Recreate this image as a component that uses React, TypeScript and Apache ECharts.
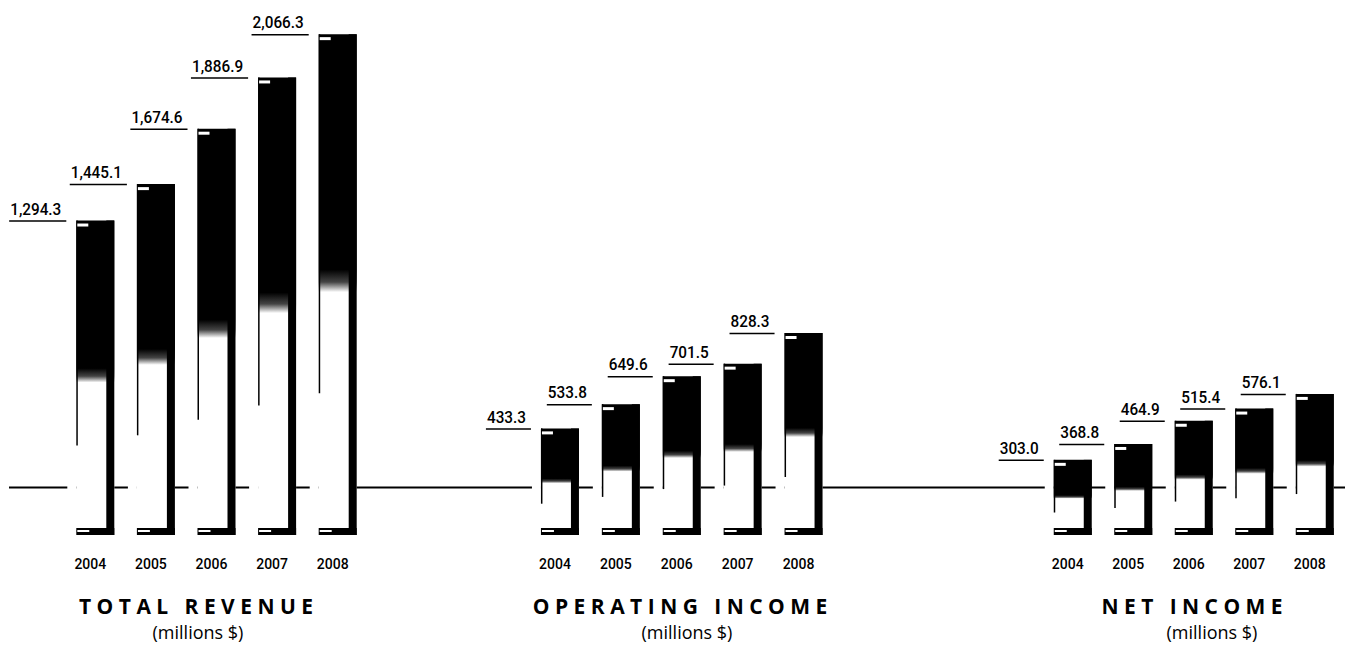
import React, { useEffect, useRef } from "react";
import * as echarts from "echarts";

const years = ["2004", "2005", "2006", "2007", "2008"];
const totalRevenue = [1294.3, 1445.1, 1674.6, 1886.9, 2066.3];
const operatingIncome = [433.3, 533.8, 649.6, 701.5, 828.3];
const netIncome = [303.0, 368.8, 464.9, 515.4, 576.1];
const groupTitles = ["TOTAL REVENUE", "OPERATING INCOME", "NET INCOME"];
const groupSubtitle = "(millions $)";

const LABEL_FAMILY = "Roboto, 'Noto Sans', sans-serif";
const LABEL_SIZE = 17;
const LABEL_WEIGHT = 500;
const LABEL_SCALE_X = 0.9;
const TITLE_FAMILY = "'Open Sans', 'Noto Sans', sans-serif";

const fmt = (v: number) =>
  v.toLocaleString("en-US", { minimumFractionDigits: 1, maximumFractionDigits: 1 });

let measureCtx: CanvasRenderingContext2D | null = null;
function textWidth(t: string): number {
  if (!measureCtx) {
    const c = document.createElement("canvas");
    measureCtx = c.getContext("2d");
  }
  if (!measureCtx) return t.length * 8;
  measureCtx.font = `${LABEL_WEIGHT} ${LABEL_SIZE}px ${LABEL_FAMILY}`;
  return measureCtx.measureText(t).width;
}

const spaced = (s: string) =>
  s
    .split(" ")
    .map((w) => w.split("").join(" "))
    .join("   ");

function renderBar(params: any, api: any) {
  const idx = api.value(0);
  const val = api.value(1);
  const top = api.coord([idx, val]);
  const base = api.coord([idx, 0]);
  const w = 38;
  const x = top[0] - w / 2;
  const yT = top[1];
  const yB = base[1];
  const h = yB - yT;
  const label = fmt(val);
  const tw = textWidth(label) * LABEL_SCALE_X;
  const grad = new echarts.graphic.LinearGradient(0, 0, 0, 1, [
    { offset: 0, color: "#000" },
    { offset: 0.47, color: "#000" },
    { offset: 0.495, color: "#444" },
    { offset: 0.515, color: "#fff" },
    { offset: 1, color: "#fff" },
  ]);
  return {
    type: "group",
    children: [
      { type: "rect", shape: { x: x - 9, y: yT, width: 9, height: h + 3 }, style: { fill: "#fff" } },
      { type: "rect", shape: { x, y: yT, width: w, height: h + 2 }, style: { fill: grad } },
      { type: "rect", shape: { x, y: yT, width: 1.5, height: h * 0.72 }, style: { fill: "#000" } },
      { type: "rect", shape: { x: x + w - 8, y: yT, width: 8, height: h + 2 }, style: { fill: "#000" } },
      { type: "rect", shape: { x, y: yB - 5, width: w, height: 7 }, style: { fill: "#000" } },
      { type: "rect", shape: { x: x + 1, y: yT + 3, width: 11, height: 3 }, style: { fill: "#fff" } },
      { type: "rect", shape: { x: x + 1, y: yB - 3, width: 12, height: 2 }, style: { fill: "#fff" } },
      {
        type: "line",
        shape: { x1: x - 15 - tw - 1, y1: yT + 0.5, x2: x - 10, y2: yT + 0.5 },
        style: { stroke: "#000", lineWidth: 1.5 },
      },
      {
        type: "text",
        x: x - 15,
        y: yT - 3,
        scaleX: LABEL_SCALE_X,
        style: {
          text: label,
          align: "right",
          verticalAlign: "bottom",
          fontSize: LABEL_SIZE,
          fontWeight: LABEL_WEIGHT,
          fontFamily: LABEL_FAMILY,
          fill: "#000",
        },
      },
    ],
  };
}

export default function App() {
  const ref = useRef<HTMLDivElement>(null);
  useEffect(() => {
    if (!ref.current) return;
    const chart = echarts.init(ref.current, null, { renderer: "svg" });
    const datasets = [totalRevenue, operatingIncome, netIncome];
    const gridDefs = [
      { left: 65, width: 303 },
      { left: 529.5, width: 304.5 },
      { left: 1042.5, width: 305 },
    ];
    const titleCenters = [196, 680, 1192];
    const subCenters = [198, 687, 1212];
    const option: any = {
      animation: false,
      backgroundColor: "#fff",
      grid: gridDefs.map((g) => ({ left: g.left, width: g.width, top: 26, bottom: 121, containLabel: false })),
      xAxis: gridDefs.map((_, i) => ({
        type: "category",
        gridIndex: i,
        data: years,
        axisLine: { show: false },
        axisTick: { show: false },
        splitLine: { show: false },
        axisLabel: {
          margin: 24,
          fontSize: 14,
          fontWeight: 500,
          fontFamily: LABEL_FAMILY,
          color: "#000",
          padding: [0, 10, 0, 0],
        },
      })),
      yAxis: gridDefs.map((_, i) => ({
        type: "value",
        gridIndex: i,
        min: 0,
        max: 2100,
        show: false,
      })),
      series: datasets.map((d, i) => ({
        type: "custom",
        xAxisIndex: i,
        yAxisIndex: i,
        z: 10,
        clip: false,
        renderItem: renderBar,
        encode: { x: 0, y: 1 },
        data: d.map((v, j) => [j, v]),
      })),
      graphic: [
        {
          type: "line",
          z: 0,
          shape: { x1: 9, y1: 487.5, x2: 1345, y2: 487.5 },
          style: { stroke: "#000", lineWidth: 2 },
        },
        ...groupTitles.map((t, i) => ({
          type: "text",
          x: titleCenters[i],
          y: 606,
          style: {
            text: spaced(t),
            align: "center",
            verticalAlign: "middle",
            fontSize: 21,
            fontWeight: "bold",
            fontFamily: TITLE_FAMILY,
            fill: "#000",
          },
        })),
        ...groupTitles.map((_, i) => ({
          type: "text",
          x: subCenters[i],
          y: 632,
          style: {
            text: groupSubtitle,
            align: "center",
            verticalAlign: "middle",
            fontSize: 18,
            fontFamily: TITLE_FAMILY,
            fill: "#000",
          },
        })),
      ],
    };
    chart.setOption(option);
    return () => chart.dispose();
  }, []);
  return (
    <div
      ref={ref}
      style={{ position: "fixed", left: 0, top: 0, width: 1345, height: 654, background: "#fff" }}
    />
  );
}
